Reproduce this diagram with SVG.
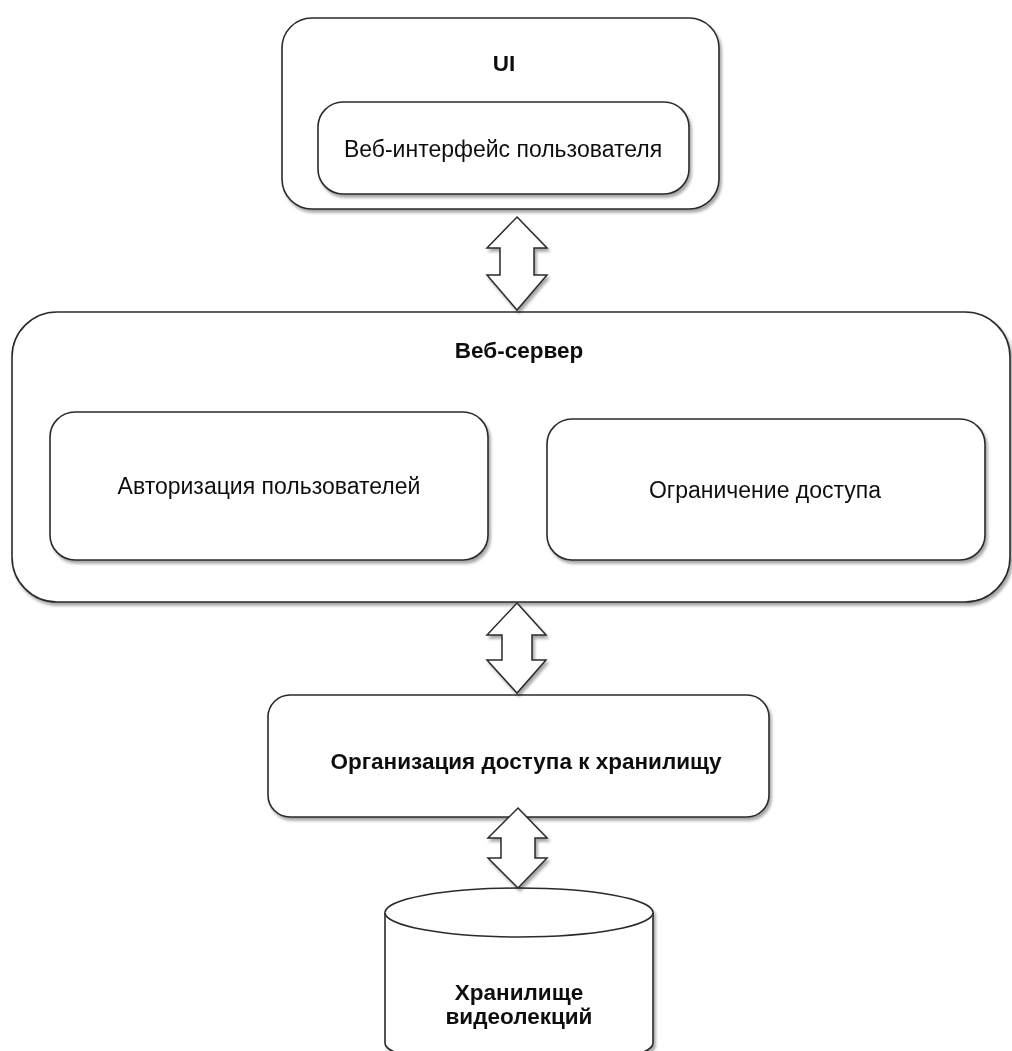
<svg xmlns="http://www.w3.org/2000/svg" width="1012" height="1051" viewBox="0 0 1012 1051">
  <defs>
    <filter id="sh" x="-10%" y="-10%" width="120%" height="130%">
      <feGaussianBlur in="SourceAlpha" stdDeviation="1.5"/>
      <feOffset dx="2" dy="3" result="b"/>
      <feComponentTransfer><feFuncA type="linear" slope="0.35"/></feComponentTransfer>
      <feMerge><feMergeNode/><feMergeNode in="SourceGraphic"/></feMerge>
    </filter>
  </defs>
  <style>
    .box { fill: #ffffff; stroke: #2a2a2a; stroke-width: 1.6; }
    .arrow { fill: #ffffff; stroke: #2a2a2a; stroke-width: 1.5; stroke-linejoin: miter; }
    .t { font-family: "Liberation Sans", Arial, sans-serif; fill: #111111; text-anchor: middle; }
    .r { font-size: 23px; }
    .b { font-size: 22.5px; font-weight: bold; }
  </style>
  <rect width="1012" height="1051" fill="#ffffff"/>

  <g id="ui" filter="url(#sh)">
    <rect class="box" x="282" y="18" width="437" height="191" rx="30" ry="30"/>
    <text class="t b" x="504" y="71">UI</text>
  </g>
  <g id="web-ui" filter="url(#sh)">
    <rect class="box" x="318" y="102" width="371" height="92" rx="25" ry="25"/>
    <text class="t r" x="503" y="157">Веб-интерфейс пользователя</text>
  </g>

  <g id="web-server" filter="url(#sh)">
    <rect class="box" x="12" y="312" width="998" height="290" rx="45" ry="45"/>
    <text class="t b" x="519" y="358">Веб-сервер</text>
  </g>
  <g id="auth" filter="url(#sh)">
    <rect class="box" x="50" y="412" width="438" height="148" rx="25" ry="25"/>
    <text class="t r" x="269" y="494">Авторизация пользователей</text>
  </g>
  <g id="access-limit" filter="url(#sh)">
    <rect class="box" x="547" y="419" width="438" height="141" rx="25" ry="25"/>
    <text class="t r" x="765" y="498">Ограничение доступа</text>
  </g>

  <g id="storage-access" filter="url(#sh)">
    <rect class="box" x="268" y="695" width="501" height="122" rx="22" ry="22"/>
    <text class="t b" x="526" y="769">Организация доступа к хранилищу</text>
  </g>

  <g id="storage" filter="url(#sh)">
    <path class="box" d="M385,912.5 L385,1043 A134,24.5 0 0 0 653,1043 L653,912.5 A134,24.5 0 0 0 385,912.5 Z"/>
    <path class="box" fill="none" d="M385,912.5 A134,24.5 0 0 0 653,912.5"/>
    <text class="t b" x="519" y="1000">Хранилище</text>
    <text class="t b" x="519" y="1024">видеолекций</text>
  </g>

  <g id="connectors" filter="url(#sh)">
    <path class="arrow" d="M517,217 L547,248 L534,248 L534,275 L547,275 L517,310 L487,275 L500,275 L500,248 L487,248 Z"/>
    <path class="arrow" d="M517,603 L546,635 L532,635 L532,660 L546,660 L517,693 L487,660 L502,660 L502,635 L487,635 Z"/>
    <path class="arrow" d="M518,808 L547,838 L535,838 L535,858 L547,858 L518,888 L488,858 L501,858 L501,838 L488,838 Z"/>
  </g>
</svg>
